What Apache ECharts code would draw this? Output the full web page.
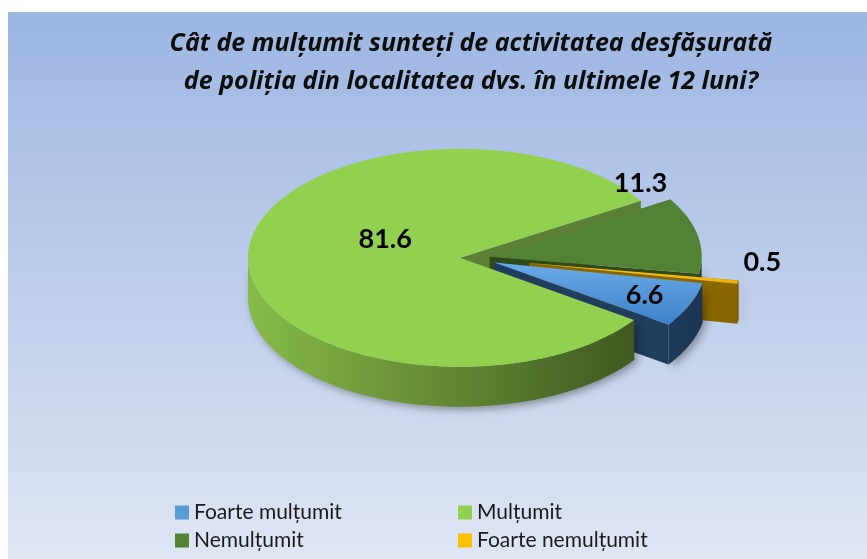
<!DOCTYPE html>
<html>
<head>
<meta charset="utf-8">
<style>
  html, body { margin: 0; padding: 0; background: #fff; }
  #chart { width: 867px; height: 559px; }
</style>
<script src="https://cdn.jsdelivr.net/npm/echarts@6/dist/echarts.min.js"></script>
</head>
<body>
<div id="chart"></div>
<script>
// date
const categories = ["Foarte mulțumit", "Mulțumit", "Nemulțumit", "Foarte nemulțumit"];
const values = [6.6, 81.6, 11.3, 0.5];

// aspect
const topColors = ["#5b9bd5", "#92d050", "#548235", "#ffc000"];
const wallColors = [["#3d6fa8", "#1c3554"], ["#86ba47", "#33481a"], ["#4a7028", "#2c4417"], ["#b08a00", "#6e5400"]];
const cutColors = ["#203d5e", "#5b7f34", "#2f4a1a", "#8a6800"];
const explode = [22, 14, 16, 56];
const labelPlace = [[0.77, 0], [0.39, -23.6], [0.98, 32.3], [1.1, 10.6]]; // raza relativa, deplasare unghi

const cx = 474, cy = 258, rx = 212, ry = 109, depth = 40, startAngle = -11;
const total = values.reduce((a, b) => a + b, 0);
const rad = d => d * Math.PI / 180;

function pt(ox, oy, th, r) {
  r = r === undefined ? 1 : r;
  return [ox + rx * r * Math.cos(rad(th)), oy - ry * r * Math.sin(rad(th))];
}
function arc(ox, oy, a, b, dy) {
  // puncte pe margine de la unghiul a la b
  let n = Math.max(2, Math.ceil(Math.abs(b - a)));
  let pts = [];
  for (let k = 0; k <= n; k++) {
    let p = pt(ox, oy, a + (b - a) * k / n);
    pts.push([p[0], p[1] + (dy || 0)]);
  }
  return pts;
}
function centerY(pts) {
  return pts.reduce((s, p) => s + p[1], 0) / pts.length;
}

function makeSeries(i) {
  return {
    type: "custom",
    name: categories[i],
    coordinateSystem: "none",
    itemStyle: { color: topColors[i] },
    data: [[values[i]]],
    renderItem: function (params, api) {
      let v = api.value(0);
      let before = 0;
      for (let j = 0; j < i; j++) before += values[j];
      let thS = startAngle - 360 * before / total;
      let thE = thS - 360 * v / total;
      let mid = (thS + thE) / 2;
      let ox = cx + explode[i] * Math.cos(rad(mid));
      let oy = cy - explode[i] * (ry / rx) * Math.sin(rad(mid));
      let children = [];

      // pereti exteriori (partea din fata)
      for (let k = -2; k <= 1; k++) {
        let a = Math.max(thE, -180 + 360 * k);
        let b = Math.min(thS, 360 * k);
        if (b > a) {
          let pts = arc(ox, oy, b, a, 0).concat(arc(ox, oy, a, b, depth));
          children.push({
            type: "polygon",
            z2: Math.round(centerY(pts)),
            shape: { points: pts },
            style: {
              fill: new echarts.graphic.LinearGradient(250, 0, 700, 0, [
                { offset: 0, color: wallColors[i][0] },
                { offset: 1, color: wallColors[i][1] }
              ], true),
              shadowBlur: 8,
              shadowColor: "rgba(0,0,0,0.35)",
              shadowOffsetX: 3,
              shadowOffsetY: 3
            }
          });
        }
      }
      // fetele taieturii
      [thS, thE].forEach(function (th) {
        let p = pt(ox, oy, th);
        let pts = [[ox, oy], p, [p[0], p[1] + depth], [ox, oy + depth]];
        children.push({
          type: "polygon",
          z2: Math.round(centerY(pts)),
          shape: { points: pts },
          style: { fill: cutColors[i] }
        });
      });
      // fata de sus
      let topFill = topColors[i];
      if (i === 0) {
        topFill = new echarts.graphic.LinearGradient(0, 0, 0, 1, [
          { offset: 0, color: "#6aaae6" }, { offset: 1, color: "#3d82cb" }
        ]);
      } else if (i === 3) {
        topFill = new echarts.graphic.LinearGradient(0, 0, 0, 1, [
          { offset: 0, color: "#ffcc1a" }, { offset: 1, color: "#f0b000" }
        ]);
      }
      children.push({
        type: "polygon",
        z2: 1000,
        shape: { points: [[ox, oy]].concat(arc(ox, oy, thS, thE, 0)) },
        style: { fill: topFill }
      });
      // eticheta
      let lp = pt(ox, oy, mid + labelPlace[i][1], labelPlace[i][0]);
      children.push({
        type: "text",
        z2: 2000,
        style: {
          text: String(v),
          x: lp[0],
          y: lp[1],
          align: "center",
          verticalAlign: "middle",
          fill: "#000",
          font: "bold 27px Lato"
        }
      });
      return { type: "group", children: children };
    }
  };
}

const legendText = { fontFamily: "Lato", fontSize: 21, color: "#1a1a1a" };

const option = {
  animation: false,
  backgroundColor: "#ffffff",
  graphic: [{
    type: "rect",
    z: -100,
    silent: true,
    shape: { x: 8, y: 12, width: 859, height: 547 },
    style: {
      fill: new echarts.graphic.LinearGradient(0, 0, 0, 1, [
        { offset: 0, color: "#9cb6e2" },
        { offset: 1, color: "#dfe6f4" }
      ])
    }
  }],
  title: {
    text: "Cât de mulțumit sunteți de activitatea desfășurată\nde poliția din localitatea dvs. în ultimele 12 luni?",
    left: 466,
    top: 20,
    textAlign: "center",
    textStyle: {
      fontFamily: "Open Sans",
      fontStyle: "italic",
      fontWeight: "bold",
      fontSize: 25,
      lineHeight: 38,
      color: "#0d0d0d",
      align: "center"
    }
  },
  legend: [
    {
      data: [categories[0], categories[2]],
      orient: "vertical",
      left: 175, top: 502, padding: 0,
      itemWidth: 14, itemHeight: 14, itemGap: 7,
      icon: "rect",
      textStyle: legendText
    },
    {
      data: [categories[1], categories[3]],
      orient: "vertical",
      left: 458, top: 502, padding: 0,
      itemWidth: 14, itemHeight: 14, itemGap: 7,
      icon: "rect",
      textStyle: legendText
    }
  ],
  series: categories.map((c, i) => makeSeries(i))
};

const chart = echarts.init(document.getElementById("chart"));
chart.setOption(option);
</script>
</body>
</html>
